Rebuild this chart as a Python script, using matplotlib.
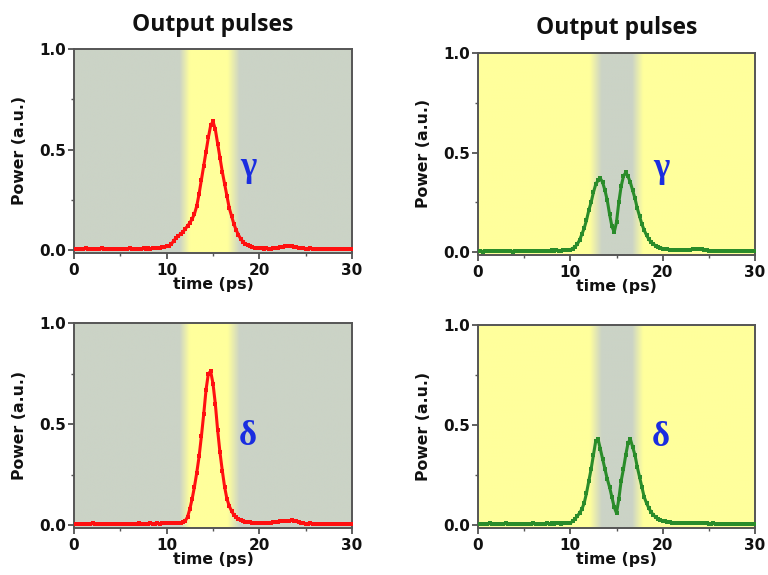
import numpy as np
import matplotlib
matplotlib.use("Agg")
import matplotlib.pyplot as plt
from matplotlib.colors import to_rgb
from matplotlib.ticker import MultipleLocator

# ---------------- data ----------------
time_ps = np.arange(0, 30.0001, 0.25)  # 121 sample times (ps)

base_a = [0.004,0.006,0.003,0.007,0.005,0.008,0.004,0.006,0.005,0.007,
          0.006,0.004,0.008,0.005,0.006,0.003,0.007,0.005,0.006,0.004,
          0.005,0.007,0.004,0.006,0.008,0.005,0.006,0.004,0.007,0.006,
          0.008,0.006,0.009,0.007,0.010,0.008,0.011,0.012,0.013,0.015]
tail_a = [0.007,0.006,0.008,0.005,0.006,0.007,0.005,0.006,0.004,0.006,
          0.005,0.007,0.004,0.006,0.005,0.006,0.004,0.005,0.006,0.005,0.005]

gamma_red = base_a + [
    0.018,0.022,0.030,0.045,0.060,0.070,0.080,0.090,0.105,0.120,
    0.135,0.155,0.180,0.220,0.280,0.350,0.420,0.490,0.560,0.620,
    0.640,0.600,0.530,0.460,0.390,0.330,0.270,0.210,0.170,0.130,
    0.100,0.075,0.055,0.040,0.030,0.024,0.018,0.014,0.012,0.010,
    0.009,0.008,0.007,0.008,0.006,0.007,0.009,0.010,0.012,0.014,
    0.016,0.018,0.019,0.020,0.019,0.017,0.015,0.012,0.010,0.008] + tail_a

delta_red = [0.005,0.003,0.006,0.004,0.007,0.005,0.006,0.004,0.008,0.005,
             0.006,0.007,0.004,0.006,0.005,0.007,0.006,0.004,0.006,0.005,
             0.007,0.005,0.006,0.004,0.006,0.007,0.005,0.006,0.008,0.006,
             0.007,0.005,0.006,0.008,0.007,0.006,0.008,0.007,0.009,0.008] + [
    0.008,0.009,0.008,0.010,0.010,0.011,0.012,0.014,0.020,0.040,
    0.080,0.130,0.190,0.260,0.340,0.440,0.550,0.670,0.750,0.760,
    0.700,0.600,0.470,0.360,0.270,0.190,0.130,0.095,0.070,0.050,
    0.038,0.030,0.024,0.020,0.017,0.015,0.013,0.012,0.011,0.010,
    0.009,0.008,0.010,0.009,0.011,0.012,0.013,0.014,0.016,0.018,
    0.019,0.020,0.022,0.021,0.023,0.020,0.018,0.015,0.012,0.010] + tail_a

gamma_green = base_a[:36] + [0.008,0.009,0.010,0.011] + [
    0.012,0.018,0.026,0.040,0.060,0.090,0.120,0.160,0.210,0.250,
    0.300,0.340,0.360,0.370,0.350,0.310,0.260,0.190,0.130,0.100,
    0.150,0.250,0.330,0.380,0.400,0.380,0.350,0.310,0.270,0.220,
    0.180,0.140,0.110,0.085,0.065,0.050,0.040,0.032,0.026,0.022,
    0.018,0.016,0.014,0.012,0.011,0.010,0.009,0.010,0.009,0.011,
    0.010,0.012,0.013,0.014,0.015,0.016,0.015,0.014,0.012,0.010] + tail_a

delta_green = base_a[:36] + [0.007,0.008,0.009,0.009] + [
    0.010,0.020,0.030,0.045,0.060,0.080,0.110,0.160,0.220,0.280,
    0.350,0.420,0.430,0.380,0.330,0.280,0.230,0.190,0.140,0.090,
    0.060,0.130,0.220,0.280,0.350,0.410,0.430,0.390,0.350,0.290,
    0.240,0.190,0.140,0.110,0.085,0.065,0.050,0.040,0.030,0.025,
    0.020,0.018,0.015,0.013,0.012,0.011,0.010,0.011,0.010,0.009,
    0.010,0.011,0.010,0.012,0.011,0.010,0.011,0.009,0.010,0.008] + tail_a

panel_titles = ["Output pulses", "Output pulses", "", ""]
panel_labels = ["γ", "γ", "δ", "δ"]
x_ticks = [0, 10, 20, 30]
y_ticks = [0.0, 0.5, 1.0]
y_ticklabels = ["0.0", "0.5", "1.0"]

# ---------------- style ----------------
W, H = 768, 575
fig = plt.figure(figsize=(W / 100, H / 100), dpi=100)

GREY = "#cbd3c6"
YELLOW = "#ffff9c"
TICKFONT = "DejaVu Sans"

# pixel boxes: left, right, top, bottom
boxes = [(74, 352, 49, 252.5), (478, 755, 53, 254.5),
         (74, 352, 323, 527.5), (478, 755, 325, 527.5)]
series = [gamma_red, gamma_green, delta_red, delta_green]
colors = ["#ff1010", "#2a8c2a", "#ff1010", "#2a8c2a"]
# band (outer start, inner start, inner end, outer end), center colour, outside colour
bands = [((11.4, 12.5, 16.6, 17.9), YELLOW, GREY),
         ((12.1, 13.4, 16.7, 17.9), GREY, YELLOW),
         ((11.4, 12.5, 16.6, 17.9), YELLOW, GREY),
         ((12.1, 13.4, 16.7, 17.9), GREY, YELLOW)]
label_pos = [(18.8, 0.41), (19.8, 0.42), (18.7, 0.44), (19.8, 0.44)]
title_y = [25, 28]

for i in range(4):
    l, r, t, b = boxes[i]
    ax = fig.add_axes([l / W, 1 - b / H, (r - l) / W, (b - t) / H])
    ymin = -0.012
    ax.set_xlim(0, 30)
    ax.set_ylim(ymin, 1.0)

    # background with soft-edged band
    (e0, e1, e2, e3), cin, cout = bands[i]
    xs = np.linspace(0, 30, 1200)
    w = np.clip(np.minimum((xs - e0) / (e1 - e0), (e3 - xs) / (e3 - e2)), 0, 1)
    ci, co = np.array(to_rgb(cin)), np.array(to_rgb(cout))
    row = co[None, :] * (1 - w[:, None]) + ci[None, :] * w[:, None]
    ax.imshow(row[None, :, :], extent=[0, 30, ymin, 1.0], aspect="auto",
              zorder=0, interpolation="bilinear")

    ax.plot(time_ps, series[i], color=colors[i], lw=2.2, marker="s",
            ms=2.2, mew=0, zorder=3)

    ax.set_xticks(x_ticks)
    ax.set_yticks(y_ticks)
    ax.set_yticklabels(y_ticklabels)
    ax.xaxis.set_minor_locator(MultipleLocator(5))
    ax.yaxis.set_minor_locator(MultipleLocator(0.25))
    ax.tick_params(which="major", direction="out", length=4, width=1.2,
                   color="#444444")
    ax.tick_params(axis="x", which="major", pad=3.5)
    ax.tick_params(axis="y", which="major", pad=1.5)
    ax.tick_params(which="minor", direction="out", length=2.5, width=1,
                   color="#555555")
    for lab in ax.get_xticklabels() + ax.get_yticklabels():
        lab.set_fontfamily(TICKFONT)
        lab.set_fontweight("bold")
        lab.set_fontsize(11)
        lab.set_color("#111111")
    for sp in ax.spines.values():
        sp.set_color("#555555")
        sp.set_linewidth(1.4)

    ax.set_xlabel("time (ps)", fontfamily=TICKFONT, fontweight="bold",
                  fontsize=11.3, labelpad=-1, color="#111111")
    ax.set_ylabel("Power (a.u.)", fontfamily=TICKFONT,
                  fontweight="bold", fontsize=11.3, labelpad=9, color="#111111")

    lx, ly = label_pos[i]
    ax.text(lx, ly, panel_labels[i], color="#1a2de0", fontsize=25,
            fontweight="bold", fontfamily="Liberation Serif",
            ha="center", va="center", zorder=4)

    if panel_titles[i]:
        fig.text((l + r) / 2 / W, 1 - title_y[i] / H, panel_titles[i],
                 ha="center", va="center", fontsize=16.5, fontweight="bold",
                 fontfamily="Open Sans", color="#111111")

fig.savefig("out.png", dpi=100)
